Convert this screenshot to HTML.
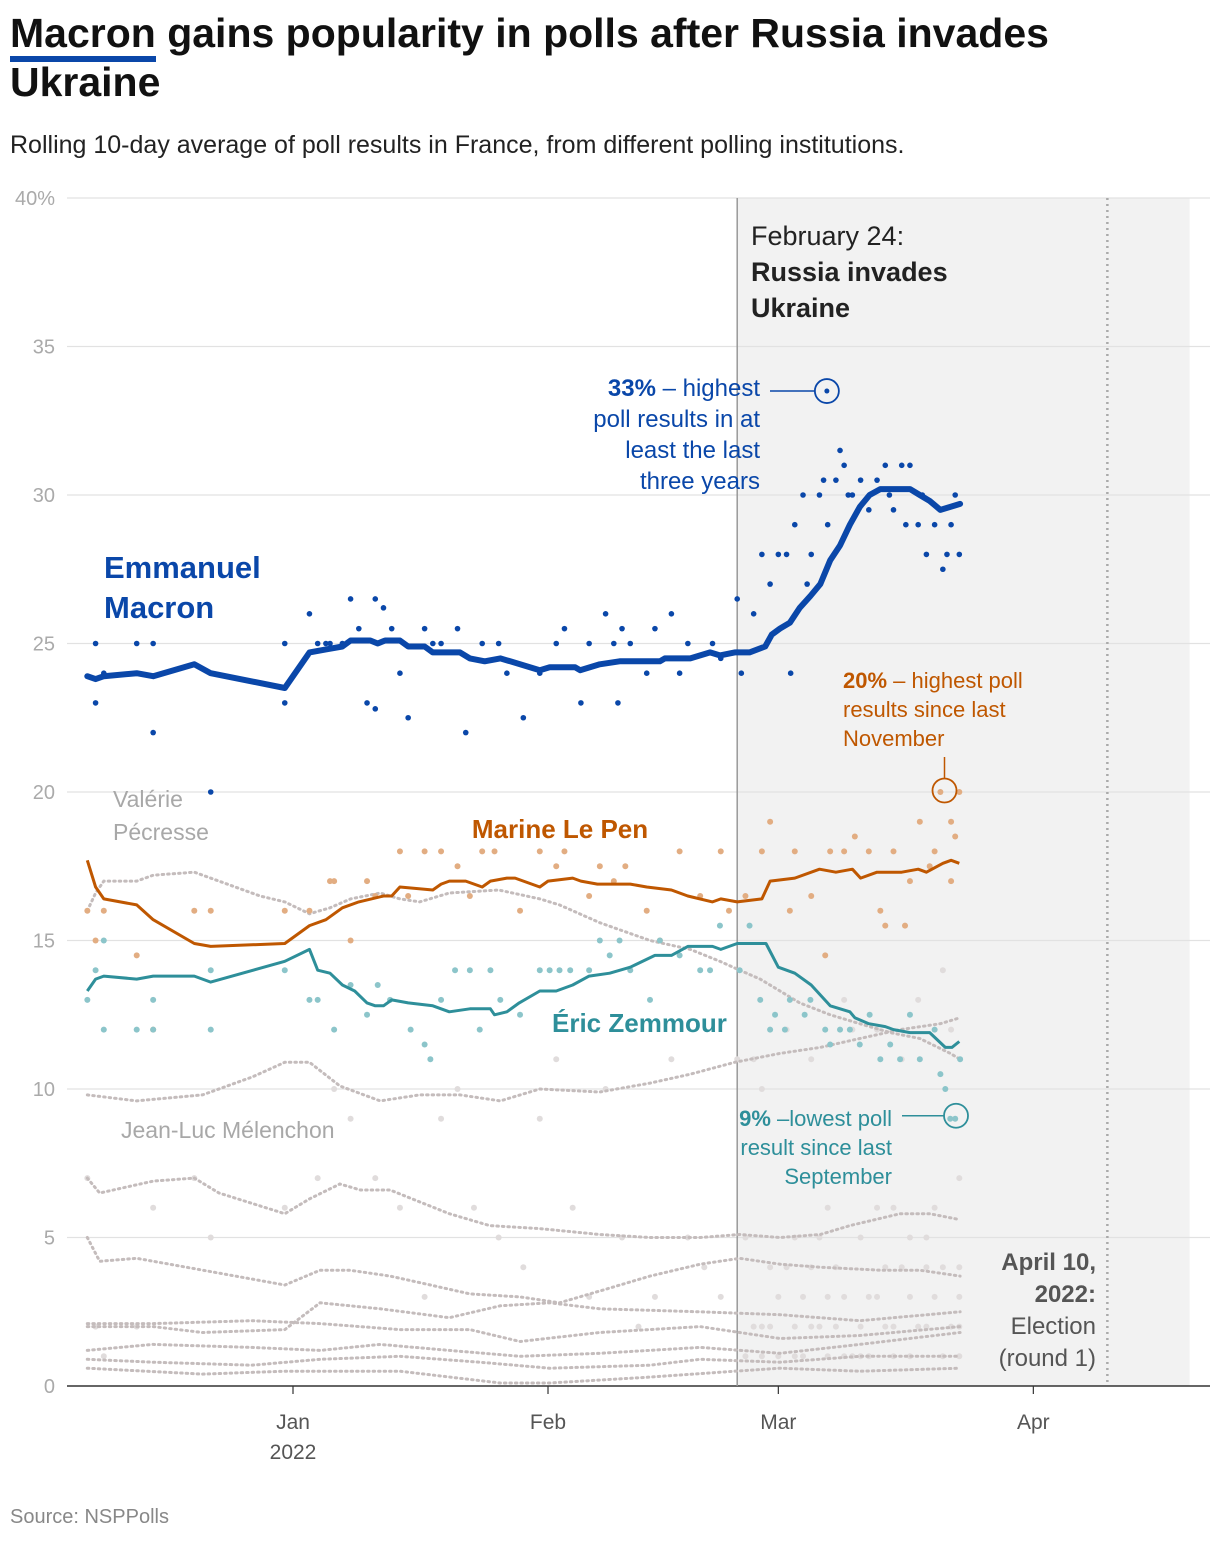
<!DOCTYPE html>
<html><head><meta charset="utf-8">
<style>
html,body{margin:0;padding:0;background:#fff;}
body{width:1220px;height:1542px;position:relative;overflow:hidden;font-family:"Liberation Sans",sans-serif;}
</style></head>
<body>
<div style="position:absolute;left:10px;top:9px;font-size:41px;font-weight:bold;color:#111;line-height:49px;width:1160px;"><span style="border-bottom:6px solid #0a47a9;">Macron</span> gains popularity in polls after Russia invades Ukraine</div>
<div style="position:absolute;left:10px;top:131px;font-size:25px;color:#222;">Rolling 10-day average of poll results in France, from different polling institutions.</div>
<svg id="chart" width="1220" height="1542" style="position:absolute;left:0;top:0;font-family:'Liberation Sans',sans-serif;"></svg>
<div style="position:absolute;left:10px;top:1506px;font-size:20px;color:#888;">Source: NSPPolls</div>
<script>
// days since 2022-01-01
const yTicks=[0,5,10,15,20,25,30,35,40];
const xTickDays=[0,31,59,90];
const xTickLabels=["Jan","Feb","Mar","Apr"];
const macronLine=[[-25,23.9],[-24,23.8],[-23,23.9],[-19,24],[-17,23.9],[-12,24.3],[-10,24],[-1,23.5],[2,24.7],[4,24.8],[6,24.9],[7,25.1],[9.4,25.1],[10.3,25],[11.2,25.1],[13,25.1],[14,24.9],[16,24.9],[17,24.7],[20.3,24.7],[21.5,24.5],[23.3,24.4],[25.2,24.5],[26.4,24.4],[30,24.1],[31.2,24.2],[34.3,24.2],[34.9,24.1],[37.3,24.3],[39.7,24.4],[44.6,24.4],[45.2,24.5],[48.3,24.5],[50.7,24.7],[51.9,24.6],[53.7,24.7],[55.5,24.7],[57.4,24.9],[58.2,25.3],[59.2,25.5],[60.4,25.7],[61.6,26.2],[62.9,26.6],[64.1,27],[65.3,27.8],[66.5,28.3],[67.7,29],[68.9,29.6],[70.1,30],[71.4,30.2],[75,30.2],[76.2,30],[77.4,29.8],[78.7,29.5],[79.9,29.6],[81.1,29.7]];
const lepenLine=[[-25,17.7],[-24,16.8],[-23,16.4],[-19,16.2],[-17,15.7],[-12,14.9],[-10,14.8],[-1,14.9],[2,15.5],[4,15.7],[6,16.1],[8,16.3],[11,16.5],[12,16.5],[13,16.8],[17,16.7],[18,16.9],[19,17],[21,17],[23,16.8],[24,17],[26,17.1],[27,17.1],[30,16.8],[31,17],[34,17.1],[35,17],[37,16.9],[41,16.9],[43,16.8],[46,16.7],[48,16.5],[51,16.3],[52,16.4],[54,16.3],[57,16.4],[58,17],[61,17.1],[64,17.4],[66,17.3],[68,17.4],[69,17.1],[71,17.3],[74,17.3],[76,17.4],[77,17.3],[79,17.6],[80,17.7],[81,17.6]];
const zemmourLine=[[-25,13.3],[-24,13.7],[-23,13.8],[-19,13.7],[-17,13.8],[-12,13.8],[-10,13.6],[-1,14.3],[2,14.7],[3,14],[4.5,13.9],[6,13.5],[7.5,13.3],[9,12.9],[10,12.8],[11,12.8],[12,13],[14,12.9],[17,12.8],[19,12.6],[21.5,12.7],[24,12.7],[24.5,12.5],[26,12.6],[27.5,12.9],[30,13.3],[32,13.3],[34,13.5],[36,13.8],[38.5,13.9],[41,14.1],[44,14.5],[46,14.5],[48,14.8],[51,14.8],[52,14.7],[54,14.9],[57.5,14.9],[59,14.1],[61,13.9],[63,13.5],[65.3,12.8],[67.7,12.6],[68.3,12.4],[70,12.2],[72,12.1],[73,12],[75,11.9],[77.4,11.9],[79.3,11.4],[80.1,11.4],[81,11.6]];
const pecresseLine=[[-25,16],[-24,16.6],[-23,17],[-19,17],[-17,17.2],[-12,17.3],[-9,17],[-4,16.5],[-1,16.3],[2,15.9],[4.5,16.1],[7,16.4],[10.6,16.6],[13,16.4],[15.4,16.3],[19,16.6],[25,16.7],[30,16.4],[32.4,16.2],[37.3,15.6],[43.4,15],[48.3,14.7],[51.9,14.3],[54.3,14],[56.8,13.7],[59.2,13.3],[61.6,12.9],[65.3,12.5],[68.9,12.2],[72.6,11.9],[76.2,11.7],[79.9,11.2],[81.1,11]];
const melenchonLine=[[-25,9.8],[-19,9.6],[-11,9.8],[-5,10.4],[-1,10.9],[2,10.9],[5.7,10.1],[10.6,9.6],[15.4,9.8],[20.3,9.8],[25.2,9.6],[30,10],[37.3,9.9],[43.4,10.2],[48.3,10.5],[53.7,10.9],[59.2,11.2],[64.1,11.4],[68.9,11.7],[73.8,12],[78.7,12.2],[81.1,12.4]];
const otherLine1=[[-25,7],[-23.5,6.5],[-17,6.9],[-12,7],[-9,6.5],[-1,5.8],[2,6.3],[5.7,6.8],[8.2,6.6],[11.8,6.6],[15.4,6.2],[19,5.8],[23.9,5.4],[30,5.3],[37.3,5.1],[43.4,5],[49.5,5],[54.3,5.1],[59.2,5],[64.1,5.1],[67.7,5.4],[73.8,5.8],[77.4,5.8],[81.1,5.6]];
const otherLine2=[[-25,5],[-23.5,4.2],[-19,4.3],[-15,4.1],[-9,3.8],[-1,3.4],[3.3,3.9],[6.9,3.9],[11.8,3.7],[16.7,3.4],[21.5,3.1],[27.6,3],[32.4,2.8],[37.3,3.2],[43.4,3.7],[49.5,4.1],[54.3,4.3],[59.2,4.1],[64.1,4],[71.4,3.9],[76.2,3.9],[81.1,3.7]];
const otherLine3=[[-25,2],[-17,2],[-11,1.8],[-1,1.9],[3.3,2.8],[10.6,2.6],[19,2.3],[25.2,2.7],[31.2,2.8],[37.3,2.6],[49.5,2.5],[59.2,2.4],[68.9,2.2],[81.1,2.5]];
const otherLine4=[[-25,2.1],[-17,2.1],[-5,2.2],[3.3,2.1],[13,1.9],[21.5,1.9],[27.6,1.5],[37.3,1.8],[49.5,2],[59.2,1.6],[68.9,1.7],[81.1,2]];
const otherLine5=[[-25,1.2],[-17,1.4],[-5,1.3],[3.3,1.2],[10.6,1.4],[19,1.2],[27.6,1],[37.3,1.1],[49.5,1.3],[59.2,1.1],[68.9,1.4],[81.1,1.8]];
const otherLine6=[[-25,0.9],[-17,0.8],[-5,0.7],[3.3,0.9],[13,1],[22.7,0.8],[31.2,0.6],[43.4,0.7],[49.5,0.9],[59.2,0.8],[68.9,1],[81.1,1]];
const otherLine7=[[-25,0.6],[-11,0.4],[-1,0.5],[13,0.5],[25.2,0.1],[31.2,0.1],[43.4,0.3],[53.7,0.5],[59.2,0.6],[68.9,0.5],[81.1,0.6]];
const macronDots=[[-24,25],[-24,23],[-23,24],[-19,25],[-17,25],[-17,22],[-10,20],[-1,25],[-1,23],[2,26],[3,25],[4,25],[4.5,25],[6,25],[7,26.5],[8,25.5],[9,23],[10,22.8],[10,26.5],[11,26.2],[12,25.5],[13,24],[14,22.5],[16,25.5],[17,25],[18,25],[20,25.5],[21,22],[23,25],[25,25],[26,24],[28,22.5],[30,24],[32,25],[33,25.5],[35,23],[36,25],[38,26],[39,25],[39.5,23],[40,25.5],[41,25],[43,24],[44,25.5],[46,26],[47,24],[48,25],[51,25],[52,24.5],[54,26.5],[54.5,24],[56,26],[57,28],[58,27],[59,28],[60,28],[60.5,24],[61,29],[62,30],[62.5,27],[63,28],[64,30],[64.5,30.5],[65,29],[66,30.5],[66.5,31.5],[67,31],[67.5,30],[68,30],[69,30.5],[70,29.5],[71,30.5],[72,31],[72.5,30],[73,29.5],[74,31],[74.5,29],[75,31],[76,29],[76.5,30],[77,28],[78,29],[79,27.5],[79.5,28],[80,29],[80.5,30],[81,28]];
const lepenDots=[[-25,16],[-24,15],[-23,16],[-19,14.5],[-17,12],[-12,16],[-10,16],[-1,16],[2,16],[4.5,17],[5,17],[7,15],[9,17],[10,16.5],[13,18],[14,16.5],[16,18],[18,18],[20,17.5],[21.5,16.5],[23,18],[24.5,18],[27.6,16],[30,18],[32,17.5],[33,18],[36,16.5],[37.3,17.5],[39,17],[40.4,17.5],[43,16],[44.6,15],[47,18],[49.5,16.5],[52,18],[53,16],[55,16.5],[57,18],[58,19],[60.4,16],[61,18],[63,16.5],[64.7,14.5],[65.3,18],[67,18],[68.3,18.5],[70,18],[71.4,16],[72,15.5],[73,18],[74.4,15.5],[75,17],[76.2,19],[77.4,17.5],[78,18],[78.7,20],[80,19],[80.5,18.5],[81,20],[80,17]];
const zemmourDots=[[-25,13],[-24,14],[-23,15],[-23,12],[-19,12],[-17,13],[-17,12],[-10,14],[-10,12],[-1,14],[2,13],[3,13],[5,12],[7,13.5],[9,12.5],[10.3,13.5],[11.8,13],[14.3,12],[16,11.5],[16.7,11],[18,13],[19.7,14],[21.5,14],[22.7,12],[24,14],[25.2,13],[27.6,12.5],[30,14],[31.2,14],[32.4,14],[33.7,14],[36,14],[37.3,15],[38.5,14.5],[39.7,15],[41,14],[43.4,13],[44.6,15],[47,14.5],[49.5,14],[50.7,14],[51.9,15.5],[54.3,14],[55.5,15.5],[56.8,13],[58,12],[58.6,12.5],[59.8,12],[60.4,13],[62.2,12.5],[62.9,13],[64.7,12],[65.3,11.5],[66.5,12],[67.7,12],[68.9,11.5],[70.1,12.5],[71.4,11],[72.6,11.5],[73.8,11],[75,12.5],[76.2,11],[78,12],[78.7,10.5],[79.3,10],[79.9,9],[80.5,9],[81.1,11]];
const otherDots=[[-25,7],[-24,2],[-23,1],[-19,2],[-17,6],[-12,7],[-10,5],[-1,6],[3,7],[5,10],[7,9],[10,7],[13,6],[16,3],[18,9],[20,10],[22,6],[25,5],[28,4],[30,9],[32,11],[34,6],[36,3],[38,10],[40,5],[42,2],[44,3],[46,11],[48,5],[50,4],[52,3],[54,11],[55,5],[56,2],[57,10],[58,4],[59,1],[60,12],[61,5],[62,3],[63,11],[64,2],[65,6],[66,4],[67,13],[68,1],[69,5],[70,3],[71,12],[72,2],[73,6],[74,4],[75,1],[76,13],[77,5],[78,3],[79,14],[80,2],[81,4],[81,7],[80,12],[78,6],[76,2],[74,11],[72,4],[70,1],[68,12],[66,2],[64,5],[62,1],[60,4],[58,2],[56,11],[57,1],[61,2],[63,4],[65,3],[67,1],[69,2],[71,3],[73,1],[75,3],[77,2],[79,1],[81,1],[81,2],[81,3],[79,4],[77,4],[75,5],[73,2],[71,6],[69,1],[67,3],[65,1],[63,2],[61,1],[59,3],[57,2],[55,1]];

const NS="http://www.w3.org/2000/svg";
const svg=document.getElementById('chart');
const L=67,R=1210,T=198,B=1386;
function X(d){return 293+d*8.226;}
function Y(v){return B-v*(B-T)/40;}
function mk(tag,attrs,parent){const e=document.createElementNS(NS,tag);for(const k in attrs)e.setAttribute(k,attrs[k]);(parent||svg).appendChild(e);return e;}
function txt(s,attrs,parent){const e=mk('text',attrs,parent);e.textContent=s;return e;}

const shade=mk('rect',{x:X(54),y:T,width:X(109)-X(54),height:B-T,fill:'#f2f2f2'});



yTicks.forEach(v=>{
  const g=mk('line',{x1:L,x2:R,y1:Y(v),y2:Y(v),stroke:v===0?'#333':'#e2e2e2','stroke-width':v===0?1.5:1.2});
  
  
  const t=txt(v===40?'40%':String(v),{x:55,y:Y(v)+7,'text-anchor':'end','font-size':20,fill:'#aaa'});
  
  
});
xTickDays.forEach((d,i)=>{
  const tk=mk('line',{x1:X(d),x2:X(d),y1:B,y2:B+8,stroke:'#333','stroke-width':1.2});
  
  
  const t=txt(xTickLabels[i],{x:X(d),y:1429,'text-anchor':'middle','font-size':21,fill:'#555'});
  
  
});
const yr=txt('2022',{x:X(0),y:1459,'text-anchor':'middle','font-size':21,fill:'#555'});



const inv=mk('line',{x1:X(54),x2:X(54),y1:T,y2:B,stroke:'#999','stroke-width':1.5});


const el=mk('line',{x1:X(99),x2:X(99),y1:T,y2:B,stroke:'#aaa','stroke-width':2.5,'stroke-dasharray':'2 4'});



function path(pts){return pts.map((p,i)=>(i?'L':'M')+X(p[0]).toFixed(1)+','+Y(p[1]).toFixed(1)).join('');}

function dots(arr,color,r,name){
  arr.forEach(p=>{
    const c=mk('circle',{cx:X(p[0]),cy:Y(p[1]),r:r,fill:color});
    
    
  });
}
dots(otherDots,'#e0dcdc',3,'other-poll-dot');

[pecresseLine,melenchonLine,otherLine1,otherLine2,otherLine3,otherLine4,otherLine5,otherLine6,otherLine7].forEach((ln,i)=>{
  const p=mk('path',{d:path(ln),fill:'none',stroke:'#c4bcbc','stroke-width':3,'stroke-dasharray':'1.5 4','stroke-linecap':'round'});
  
  
});

dots(lepenDots,'#e2ad82',3,'lepen-poll-dot');
dots(zemmourDots,'#8cc5ca',3,'zemmour-poll-dot');
dots(macronDots,'#0a47a9',2.8,'macron-poll-dot');

const lz=mk('path',{d:path(zemmourLine),fill:'none',stroke:'#2e8f9a','stroke-width':3,'stroke-linejoin':'round'});


const ll=mk('path',{d:path(lepenLine),fill:'none',stroke:'#bf5700','stroke-width':3,'stroke-linejoin':'round'});


const lm=mk('path',{d:path(macronLine),fill:'none',stroke:'#0a47a9','stroke-width':6,'stroke-linejoin':'round','stroke-linecap':'round'});



function label(lines,x,y,lh,attrs,name){
  const t=txt('',Object.assign({x:x,y:y},attrs));
  
  
  lines.forEach((s,i)=>{const ts=mk('tspan',{x:x,dy:i?lh:0},t);
    if(Array.isArray(s)){s.forEach(part=>{const q=mk('tspan',part[1]?{'font-weight':'bold'}:{},ts);q.textContent=part[0];});}
    else ts.textContent=s;});
  return t;
}
label(['Emmanuel','Macron'],104,578,40,{'font-size':31,'font-weight':'bold',fill:'#0a47a9'},'macron-label');
label(['Marine Le Pen'],560,838,0,{'font-size':26,'font-weight':'bold',fill:'#bf5700','text-anchor':'middle'},'lepen-label');
label(['Éric Zemmour'],552,1032,0,{'font-size':26,'font-weight':'bold',fill:'#2e8f9a'},'zemmour-label');
label(['Valérie','Pécresse'],113,807,33,{'font-size':23,fill:'#a8a8a8'},'pecresse-label');
label(['Jean-Luc Mélenchon'],121,1138,0,{'font-size':23,fill:'#a8a8a8'},'melenchon-label');
label(['February 24:',[['Russia invades',true]],[['Ukraine',true]]],751,245,36,{'font-size':27,fill:'#222'},'invasion-annotation');
label([[['33%',true],[' – highest',false]],'poll results in at','least the last','three years'],760,396,31,{'font-size':24,fill:'#0a47a9','text-anchor':'end'},'macron-annotation');
label([[['20%',true],[' – highest poll',false]],'results since last','November'],843,688,29,{'font-size':22,fill:'#bf5700'},'lepen-annotation');
label([[['9%',true],[' –lowest poll',false]],'result since last','September'],892,1126,29,{'font-size':22,fill:'#2e8f9a','text-anchor':'end'},'zemmour-annotation');
label([[['April 10,',true]],[['2022:',true]],'Election','(round 1)'],1096,1270,32,{'font-size':24,fill:'#555','text-anchor':'end'},'election-annotation');

function ring(d,v,color,name){
  const c=mk('circle',{cx:X(d),cy:Y(v),r:12,fill:'none',stroke:color,'stroke-width':1.8});
  
  
}
ring(64.9,33.5,'#0a47a9','macron-peak-ring');
const dm=mk('circle',{cx:X(64.9),cy:Y(33.5),r:2.5,fill:'#0a47a9'});


ring(79.2,20.05,'#bf5700','lepen-peak-ring');
ring(80.6,9.1,'#2e8f9a','zemmour-low-ring');
const l1=mk('line',{x1:770,x2:X(64.9)-12,y1:Y(33.5),y2:Y(33.5),stroke:'#0a47a9','stroke-width':1.5});


const l2=mk('line',{x1:X(79.2),x2:X(79.2),y1:757,y2:Y(20.05)-12,stroke:'#bf5700','stroke-width':1.5});


const l3=mk('line',{x1:902,x2:X(80.6)-12,y1:Y(9.1),y2:Y(9.1),stroke:'#2e8f9a','stroke-width':1.5});


</script>
</body></html>
